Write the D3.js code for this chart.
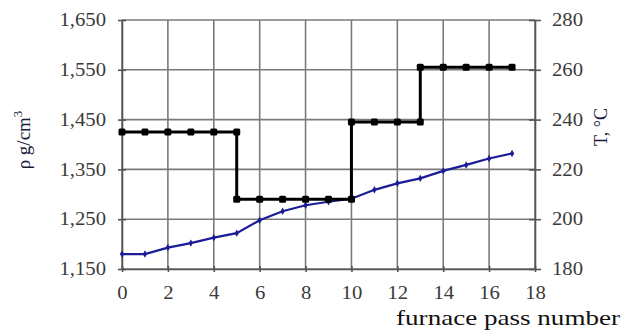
<!DOCTYPE html>
<html>
<head>
<meta charset="utf-8">
<script src="https://cdn.jsdelivr.net/npm/d3@7"></script>
<style>
  body { margin: 0; background: #fff; }
  text { font-family: "Liberation Serif", "DejaVu Serif", serif; }
</style>
</head>
<body>
<svg width="622" height="330"></svg>
<script>
// furnace pass number
const passes = [0, 1, 2, 3, 4, 5, 6, 7, 8, 9, 10, 11, 12, 13, 14, 15, 16, 17]
// density, g/cm3 (left axis)
const density = [1.180, 1.180, 1.193, 1.202, 1.213, 1.222, 1.248, 1.266, 1.278,
                 1.285, 1.291, 1.309, 1.322, 1.332, 1.347, 1.359, 1.372, 1.382]
// temperature steps, °C (right axis)
const tempPass = [0, 1, 2, 3, 4, 5, 5, 6, 7, 8, 9, 10, 10, 11, 12, 13, 13, 14, 15, 16, 17]
const tempValues = [235, 235, 235, 235, 235, 235, 208, 208, 208, 208, 208, 208,
                    239, 239, 239, 239, 261, 261, 261, 261, 261]

const xTicks = [0, 2, 4, 6, 8, 10, 12, 14, 16, 18]
const leftTicks = [1.15, 1.25, 1.35, 1.45, 1.55, 1.65]
const rightTicks = [180, 200, 220, 240, 260, 280]

const svg = d3.select("svg")
const pLeft = 122, pRight = 535, pTop = 20, pBottom = 269

const x = d3.scaleLinear().domain([0, 18]).range([pLeft, pRight])
const yL = d3.scaleLinear().domain([1.15, 1.65]).range([pBottom, pTop])
const yR = d3.scaleLinear().domain([180, 280]).range([pBottom, pTop])

const fmt = d => d3.format(".3f")(d).replace(".", ",")

// растянуть текст по горизонтали (в оригинале шрифт шире)
const stretch = (sel, k) => sel.each(function() {
    const w = this.getComputedTextLength()
    d3.select(this).attr("textLength", w * k).attr("lengthAdjust", "spacingAndGlyphs")
})

// сетка
const grid = svg.append("g").attr("stroke", "#7a7a7a").attr("stroke-width", 1.6)
grid.selectAll(".v").data(xTicks).enter().append("line")
    .attr("x1", d => x(d)).attr("x2", d => x(d))
    .attr("y1", pTop).attr("y2", pBottom)
grid.selectAll(".h").data(leftTicks).enter().append("line")
    .attr("x1", pLeft).attr("x2", pRight)
    .attr("y1", d => yL(d)).attr("y2", d => yL(d))

// оси
const axisStyle = g => {
    g.select(".domain").attr("stroke", "#555").attr("stroke-width", 1.6)
    g.selectAll(".tick line").attr("stroke", "#555").attr("stroke-width", 1.6)
    g.selectAll(".tick text").attr("fill", "#3a3a3a")
        .style("font-size", "18px")
        .style("font-family", "Liberation Serif")
        .call(stretch, 1.15)
}

svg.append("g").attr("transform", `translate(${pLeft},0)`)
    .call(d3.axisLeft(yL).tickValues(leftTicks).tickFormat(fmt).tickSize(5).tickPadding(11).tickSizeOuter(0))
    .call(axisStyle)
    .selectAll(".tick line").attr("x2", 4).attr("x1", -4)

svg.append("g").attr("transform", `translate(${pRight},0)`)
    .call(d3.axisRight(yR).tickValues(rightTicks).tickSize(5).tickPadding(12).tickSizeOuter(0))
    .call(axisStyle)
    .selectAll(".tick line").attr("x1", -6).attr("x2", 6)

svg.append("g").attr("transform", `translate(0,${pBottom})`)
    .call(d3.axisBottom(x).tickValues(xTicks).tickSize(4).tickPadding(13).tickSizeOuter(0))
    .call(axisStyle)
    .selectAll(".tick line").attr("y1", -3).attr("y2", 3)

// плотность
const densData = passes.map((p, i) => ({x: p, y: density[i]}))
const densLine = d3.line().x(d => x(d.x)).y(d => yL(d.y))
svg.append("path")
    .attr("d", densLine(densData))
    .attr("fill", "none")
    .attr("stroke", "#1c1c96")
    .attr("stroke-width", 2.2)
svg.selectAll(".dm").data(densData).enter().append("path")
    .attr("transform", d => `translate(${x(d.x)},${yL(d.y)})`)
    .attr("d", d3.symbol(d3.symbolDiamond, 16)())
    .attr("fill", "#1c1c96")

// температура (ступеньки)
const tData = tempPass.map((p, i) => ({x: p, y: tempValues[i]}))
const tLine = d3.line().x(d => x(d.x)).y(d => yR(d.y))
svg.append("path")
    .attr("d", tLine(tData))
    .attr("fill", "none")
    .attr("stroke", "#000")
    .attr("stroke-width", 3)
svg.selectAll(".tm").data(tData).enter().append("rect")
    .attr("x", d => x(d.x) - 3.5).attr("y", d => yR(d.y) - 3.5)
    .attr("width", 7).attr("height", 7).attr("rx", 1.5)
    .attr("fill", "#000")

// подписи осей
const lt = svg.append("text")
    .attr("transform", "translate(30,140) rotate(-90)")
    .attr("text-anchor", "middle")
    .attr("fill", "#1a1a3a")
    .style("font-size", "19px")
lt.append("tspan").text("ρ g/cm")
lt.append("tspan").attr("dy", -8).style("font-size", "13px").text("3")

svg.append("text")
    .attr("transform", "translate(607,127) rotate(-90)")
    .attr("text-anchor", "middle")
    .attr("fill", "#1a1a3a")
    .style("font-size", "18px")
    .text("T, °C")

svg.append("text")
    .attr("x", 620).attr("y", 325)
    .attr("text-anchor", "end")
    .attr("fill", "#111")
    .style("font-size", "22px")
    .text("furnace pass number")
    .call(stretch, 1.23)
</script>
</body>
</html>
